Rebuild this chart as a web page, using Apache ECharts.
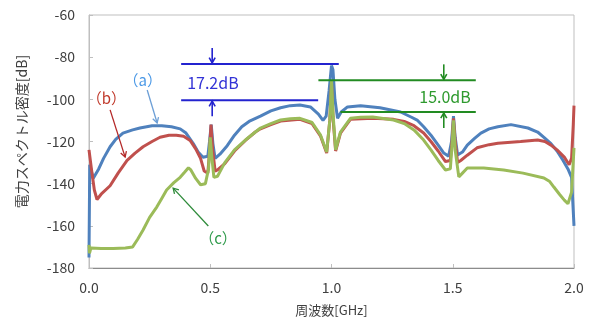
<!DOCTYPE html>
<html>
<head>
<meta charset="utf-8">
<script src="https://cdn.jsdelivr.net/npm/echarts@6/dist/echarts.min.js"></script>
<style>
html, body { margin: 0; padding: 0; background: #fff; }
#chart { width: 602px; height: 327px; }
</style>
</head>
<body>
<div id="chart"></div>
<script>
// frequency [GHz], power spectral density [dB]
const traceA = [
    [0, -175], [0.003, -131], [0.017, -137.5], [0.04, -133], [0.06, -128], [0.087, -122.5],
    [0.11, -119], [0.14, -116], [0.18, -114.5], [0.21, -113.6], [0.26, -112.5], [0.3, -112.5],
    [0.34, -113], [0.376, -114], [0.4, -116], [0.43, -121], [0.45, -125], [0.47, -127.5],
    [0.49, -127], [0.497, -120], [0.504, -112], [0.511, -121], [0.52, -128], [0.54, -126],
    [0.57, -122], [0.6, -117], [0.63, -113], [0.66, -110.5], [0.707, -108], [0.75, -105.5],
    [0.79, -104], [0.83, -103], [0.87, -102.7], [0.913, -103.6], [0.946, -107], [0.965, -110],
    [0.978, -108], [0.99, -96], [1.0, -84], [1.006, -86], [1.014, -100], [1.025, -109],
    [1.04, -106], [1.066, -103.6], [1.12, -103], [1.2, -104], [1.285, -106], [1.33, -108.5],
    [1.355, -110], [1.38, -113], [1.41, -117], [1.44, -121.7], [1.463, -125.5], [1.483, -127],
    [1.495, -120], [1.503, -108], [1.51, -118], [1.52, -126.4], [1.54, -125], [1.56, -121.7],
    [1.59, -118.5], [1.616, -116], [1.65, -114], [1.686, -113], [1.74, -112], [1.81, -113.6],
    [1.85, -115.5], [1.876, -118], [1.905, -121], [1.93, -124.5], [1.955, -129], [1.975, -133],
    [1.99, -137], [1.996, -137], [2.0, -160]
]
const traceB = [
    [0, -124], [0.01, -133], [0.022, -143], [0.033, -147.5], [0.05, -145], [0.087, -141],
    [0.12, -135], [0.157, -129], [0.19, -125.5], [0.223, -122.5], [0.26, -120], [0.293, -118],
    [0.33, -117], [0.36, -117], [0.39, -117.5], [0.417, -119.5], [0.44, -123.5], [0.46, -128],
    [0.475, -134], [0.49, -135], [0.497, -125], [0.503, -112], [0.51, -124], [0.52, -134],
    [0.53, -133.5], [0.56, -130.5], [0.6, -124.5], [0.645, -119.5], [0.686, -115.5], [0.707, -114],
    [0.75, -112], [0.79, -110.3], [0.87, -109.5], [0.92, -111.5], [0.955, -117.5], [0.98, -125.5],
    [0.993, -110], [1.0, -92], [1.007, -110], [1.017, -124.5], [1.037, -116], [1.078, -109.5],
    [1.17, -109], [1.256, -109.5], [1.3, -110.5], [1.34, -112.5], [1.38, -116], [1.41, -120],
    [1.44, -124.5], [1.47, -129.5], [1.49, -129], [1.497, -120], [1.503, -109], [1.51, -120],
    [1.52, -130], [1.533, -129], [1.56, -126.5], [1.6, -123], [1.65, -121.5], [1.686, -120.8],
    [1.74, -120.3], [1.78, -120], [1.85, -119.3], [1.88, -120], [1.905, -121.7], [1.93, -124],
    [1.96, -127.4], [1.98, -131], [1.99, -128], [1.997, -112], [2.0, -103]
]
const traceC = [
    [0, -169], [0.002, -173], [0.008, -170.5], [0.05, -170.8], [0.1, -170.8], [0.15, -170.5],
    [0.18, -170], [0.2, -166.5], [0.223, -162], [0.25, -156], [0.28, -151], [0.3, -147],
    [0.32, -143], [0.35, -139.5], [0.376, -137], [0.395, -134.5], [0.41, -132.5], [0.42, -133.5],
    [0.44, -137.5], [0.46, -140.5], [0.48, -140], [0.493, -133], [0.5, -118], [0.507, -128],
    [0.515, -137], [0.53, -136.5], [0.56, -130], [0.6, -124], [0.645, -119.3], [0.686, -115.5],
    [0.707, -113.6], [0.75, -111.5], [0.79, -109.8], [0.83, -109.2], [0.87, -109], [0.92, -111],
    [0.955, -117], [0.98, -125], [0.993, -110], [1.0, -91], [1.007, -108], [1.017, -124],
    [1.037, -115.5], [1.078, -109], [1.12, -108.5], [1.17, -108.4], [1.256, -109.8], [1.3, -111.5],
    [1.34, -114.5], [1.38, -119.3], [1.41, -124], [1.44, -129], [1.47, -133.5], [1.49, -133],
    [1.497, -122], [1.503, -110], [1.51, -124], [1.525, -136.8], [1.54, -135], [1.56, -132.6],
    [1.628, -132.6], [1.71, -133.5], [1.79, -135], [1.876, -137.3], [1.9, -139], [1.917, -141.6],
    [1.94, -145], [1.96, -147.8], [1.975, -149.5], [1.99, -144], [2.0, -123]
]

// level-gap annotations: [start, end] of each guide line
const gapBlueTop = [[0.38, -83.2], [1.03, -83.2]]
const gapBlueBottom = [[0.38, -100.4], [0.945, -100.4]]
const gapGreenTop = [[0.946, -91.0], [1.595, -91.0]]
const gapGreenBottom = [[1.037, -106.0], [1.595, -106.0]]
const gapBlueArrowX = 0.508
const gapGreenArrowX = 1.463
const gapLabels = ['17.2dB', '15.0dB']

// curve labels: text position, arrow tail, arrow head
const tagNames = ['（a）', '（b）', '（c）']
const tagPos = [[0.222, -90.8], [0.072, -99.4], [0.532, -165.8]]
const tagArrowFrom = [[0.24, -95.6], [0.087, -105], [0.492, -160.1]]
const tagArrowTo = [[0.281, -111.2], [0.149, -127.4], [0.347, -142.1]]

const cjk = '"Noto Sans CJK JP", "Noto Sans", sans-serif'

const chart = echarts.init(document.getElementById('chart'))

chart.setOption({
    animation: false,
    grid: {
        left: 89,
        top: 15,
        width: 485,
        height: 253,
        show: true,
        borderColor: '#bfbfbf',
        borderWidth: 1
    },
    xAxis: {
        type: 'value',
        min: 0,
        max: 2,
        interval: 0.5,
        name: '周波数[GHz]',
        nameLocation: 'middle',
        nameGap: 36,
        nameTextStyle: { fontFamily: cjk, fontSize: 13, color: '#404040' },
        axisLine: { lineStyle: { color: '#8c8c8c' } },
        axisTick: { inside: true, length: 4, lineStyle: { color: '#bfbfbf' } },
        axisLabel: {
            margin: 13,
            fontFamily: cjk,
            fontSize: 14,
            color: '#404040',
            formatter: v => v.toFixed(1)
        },
        splitLine: { show: false }
    },
    yAxis: {
        type: 'value',
        min: -180,
        max: -60,
        interval: 20,
        name: '電力スペクトル密度[dB]',
        nameLocation: 'middle',
        nameGap: 60,
        nameTextStyle: { fontFamily: cjk, fontSize: 14, color: '#404040', padding: [0, 0, 0, 20] },
        axisLine: { show: true, lineStyle: { color: '#bfbfbf' } },
        axisTick: { show: true, inside: true, length: 4, lineStyle: { color: '#bfbfbf' } },
        axisLabel: { margin: 14, fontFamily: cjk, fontSize: 14, color: '#404040' },
        splitLine: { show: false }
    },
    series: [
        { name: '(a)', type: 'line', data: traceA, showSymbol: false, sampling: 'none',
          lineStyle: { color: '#4f81bd', width: 3 }, itemStyle: { color: '#4f81bd' } },
        { name: '(b)', type: 'line', data: traceB, showSymbol: false, sampling: 'none',
          lineStyle: { color: '#c0504d', width: 3 }, itemStyle: { color: '#c0504d' } },
        { name: '(c)', type: 'line', data: traceC, showSymbol: false, sampling: 'none',
          lineStyle: { color: '#9bbb59', width: 3 }, itemStyle: { color: '#9bbb59' } }
    ]
})

// annotations are placed through the chart's own scales
const px = p => chart.convertToPixel({ gridIndex: 0 }, p)

const seg = (a, b, color, w) => ({
    type: 'line', silent: true, z: 100,
    shape: { x1: a[0], y1: a[1], x2: b[0], y2: b[1] },
    style: { stroke: color, lineWidth: w }
})

const arrow = (from, to, color, w, h) => {
    const dx = to[0] - from[0], dy = to[1] - from[1]
    const L = Math.hypot(dx, dy), ux = dx / L, uy = dy / L
    const left = [to[0] + h * (-0.87 * ux + 0.5 * uy), to[1] + h * (-0.5 * ux - 0.87 * uy)]
    const right = [to[0] + h * (-0.87 * ux - 0.5 * uy), to[1] + h * (0.5 * ux - 0.87 * uy)]
    return [
        seg(from, to, color, w),
        { type: 'polyline', silent: true, z: 100, shape: { points: [left, to, right] },
          style: { stroke: color, fill: null, lineWidth: w } }
    ]
}

const text = (p, str, color, size, align) => ({
    type: 'text', silent: true, z: 100, x: p[0], y: p[1],
    style: { text: str, fill: color, fontFamily: cjk, fontSize: size, align: align, verticalAlign: 'middle' }
})

const blue = '#2323cf', green = '#228b22'
const g = []

// 17.2dB gap
const bt0 = px(gapBlueTop[0]), bt1 = px(gapBlueTop[1])
const bb0 = px(gapBlueBottom[0]), bb1 = px(gapBlueBottom[1])
g.push(seg(bt0, bt1, blue, 2), seg(bb0, bb1, blue, 2))
const bx = px([gapBlueArrowX, gapBlueTop[0][1]])
const bxb = px([gapBlueArrowX, gapBlueBottom[0][1]])
g.push(...arrow([bx[0], bx[1] - 16], [bx[0], bx[1] - 1], blue, 1.6, 6))
g.push(...arrow([bxb[0], bxb[1] + 16], [bxb[0], bxb[1] + 1], blue, 1.6, 6))
g.push(text([bt0[0] + 6, (bt0[1] + bb0[1]) / 2 + 1], gapLabels[0], '#3333d6', 16, 'left'))

// 15.0dB gap
const gt0 = px(gapGreenTop[0]), gt1 = px(gapGreenTop[1])
const gb0 = px(gapGreenBottom[0]), gb1 = px(gapGreenBottom[1])
g.push(seg(gt0, gt1, green, 2), seg(gb0, gb1, green, 2))
const gx = px([gapGreenArrowX, gapGreenTop[0][1]])
const gxb = px([gapGreenArrowX, gapGreenBottom[0][1]])
g.push(...arrow([gx[0], gx[1] - 16], [gx[0], gx[1] - 1], green, 1.6, 6))
g.push(...arrow([gxb[0], gxb[1] + 16], [gxb[0], gxb[1] + 1], green, 1.6, 6))
g.push(text([gt1[0] - 5, (gt1[1] + gb1[1]) / 2 + 1], gapLabels[1], '#2e9a2e', 16, 'right'))

// curve tags
const tagColors = ['#4a98e6', '#c0392b', '#2e9a4a']
const tagArrowColors = ['#6d9fd6', '#b42828', '#2e8b3a']
tagNames.forEach((name, i) => {
    g.push(text(px(tagPos[i]), name, tagColors[i], 15, 'center'))
    g.push(...arrow(px(tagArrowFrom[i]), px(tagArrowTo[i]), tagArrowColors[i], 1.3, 6))
})

chart.setOption({ graphic: g })
</script>
</body>
</html>
